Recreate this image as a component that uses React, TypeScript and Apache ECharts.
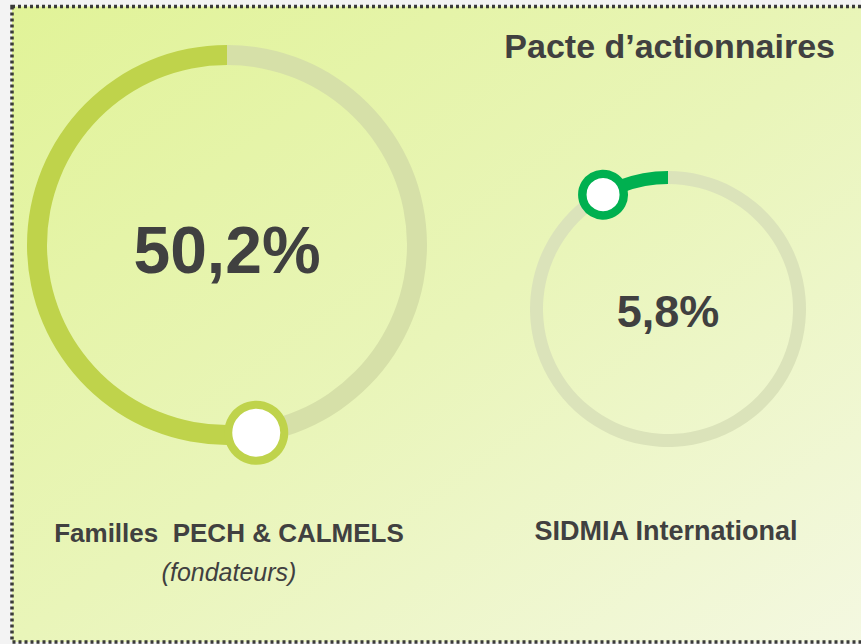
import React, { useEffect, useRef } from "react";
import * as echarts from "echarts";

// ---- data ----
const chartTitle = "Pacte d\u2019actionnaires";
const holders = ["Familles  PECH & CALMELS", "SIDMIA International"];
const holderNotes = ["(fondateurs)", ""];
const shares = [50.2, 5.8];
const shareColors = ["#bfd34b", "#00b050"];
const trackColors = ["#d6e0a8", "#dbe3ba"];

// ---- layout (styles/positions only) ----
const W = 861;
const H = 644;
const rings = [
  { cx: 227, cy: 245, outer: 200, inner: 180, knobR: 32, knobBorder: 8, font: 66, labelX: 229, labelY: 533, labelFont: 26, noteY: 572 },
  { cx: 668, cy: 309, outer: 138, inner: 125, knobR: 25, knobBorder: 8.5, font: 45, labelX: 666, labelY: 531, labelFont: 27, noteY: 570 },
];
const textColor = "#404040";
const fontFamily = "'Liberation Sans', Arial, sans-serif";

const fmt = (v: number) => v.toFixed(1).replace(".", ",") + "%";

export default function App() {
  const ref = useRef<HTMLDivElement>(null);
  useEffect(() => {
    if (!ref.current) return;
    const chart = echarts.init(ref.current, null, { renderer: "svg", width: W, height: H });

    const polar: any[] = [];
    const angleAxis: any[] = [];
    const radiusAxis: any[] = [];
    const series: any[] = [];
    const texts: any[] = [];

    shares.forEach((v, i) => {
      const r = rings[i];
      const mid = (r.outer + r.inner) / 2;
      series.push({
        type: "pie",
        silent: true,
        center: [r.cx, r.cy],
        radius: [r.inner, r.outer],
        startAngle: 90,
        clockwise: false,
        avoidLabelOverlap: false,
        label: { show: false },
        labelLine: { show: false },
        itemStyle: { borderWidth: 0 },
        emphasis: { disabled: true },
        z: 2,
        data: [
          { value: v, name: holders[i], itemStyle: { color: shareColors[i] } },
          { value: 100 - v, name: "reste", itemStyle: { color: trackColors[i] } },
        ],
      });
      polar.push({ center: [r.cx, r.cy], radius: mid });
      angleAxis.push({ polarIndex: i, min: 0, max: 100, startAngle: 90, clockwise: false, show: false });
      radiusAxis.push({ polarIndex: i, min: 0, max: 1, show: false });
      const offsetPct = (((r.knobR - 5) / mid) * 180) / Math.PI / 3.6;
      const symbolSize = 2 * (r.knobR - r.knobBorder / 2);
      series.push({
        type: "scatter",
        coordinateSystem: "polar",
        polarIndex: i,
        silent: true,
        symbol: "circle",
        symbolSize,
        itemStyle: { color: "#ffffff", borderColor: shareColors[i], borderWidth: r.knobBorder, opacity: 1 },
        z: 5,
        data: [[1, v + offsetPct]],
      });
      texts.push({
        type: "text",
        x: r.cx,
        y: r.cy + (i === 0 ? 5 : 2),
        z: 100,
        style: {
          text: fmt(v),
          fill: textColor,
          font: `bold ${r.font}px ${fontFamily}`,
          align: "center",
          verticalAlign: "middle",
        },
      });
      texts.push({
        type: "text",
        x: r.labelX,
        y: r.labelY,
        z: 100,
        style: {
          text: holders[i],
          fill: textColor,
          font: `bold ${r.labelFont}px ${fontFamily}`,
          align: "center",
          verticalAlign: "middle",
        },
      });
      if (holderNotes[i]) {
        texts.push({
          type: "text",
          x: r.labelX,
          y: r.noteY,
          z: 100,
          style: {
            text: holderNotes[i],
            fill: textColor,
            font: `italic 25px ${fontFamily}`,
            align: "center",
            verticalAlign: "middle",
          },
        });
      }
    });

    const option: any = {
      animation: false,
      polar,
      angleAxis,
      radiusAxis,
      series,
      graphic: [
        {
          type: "rect",
          z: -20,
          silent: true,
          shape: { x: 0, y: 0, width: W, height: H },
          style: { fill: "#f3f3f3" },
        },
        {
          type: "rect",
          z: -10,
          silent: true,
          shape: { x: 12, y: 6.5, width: W + 20, height: 635.5 },
          style: {
            fill: new echarts.graphic.LinearGradient(0, 0, 1, 1, [
              { offset: 0, color: "#e1f398" },
              { offset: 0.5, color: "#e9f5b9" },
              { offset: 1, color: "#f4f8e2" },
            ]),
            stroke: "#3a3a3a",
            lineWidth: 3.5,
            lineDash: [3, 3],
          },
        },
        {
          type: "text",
          x: 835,
          y: 46,
          z: 100,
          style: {
            text: chartTitle,
            fill: textColor,
            font: `bold 34px ${fontFamily}`,
            align: "right",
            verticalAlign: "middle",
          },
        },
        ...texts,
      ],
    };
    chart.setOption(option);
    return () => chart.dispose();
  }, []);
  return <div ref={ref} style={{ position: "absolute", left: 0, top: 0, width: W, height: H }} />;
}
